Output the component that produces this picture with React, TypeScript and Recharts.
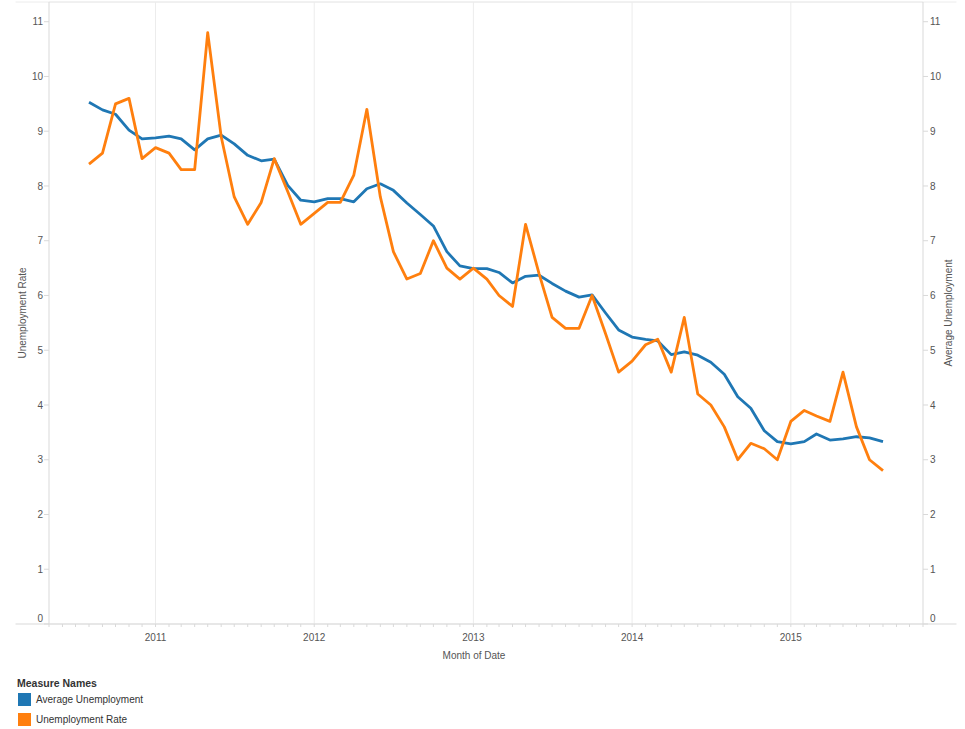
import React from 'react';
import { LineChart, Line, XAxis, YAxis, CartesianGrid, ReferenceLine, Label } from 'recharts';

const months = [
  '2010-08', '2010-09', '2010-10', '2010-11', '2010-12',
  '2011-01', '2011-02', '2011-03', '2011-04', '2011-05', '2011-06', '2011-07', '2011-08', '2011-09', '2011-10', '2011-11', '2011-12',
  '2012-01', '2012-02', '2012-03', '2012-04', '2012-05', '2012-06', '2012-07', '2012-08', '2012-09', '2012-10', '2012-11', '2012-12',
  '2013-01', '2013-02', '2013-03', '2013-04', '2013-05', '2013-06', '2013-07', '2013-08', '2013-09', '2013-10', '2013-11', '2013-12',
  '2014-01', '2014-02', '2014-03', '2014-04', '2014-05', '2014-06', '2014-07', '2014-08', '2014-09', '2014-10', '2014-11', '2014-12',
  '2015-01', '2015-02', '2015-03', '2015-04', '2015-05', '2015-06', '2015-07', '2015-08',
];

const averageUnemployment = [
  9.53, 9.39, 9.31, 9.02, 8.86,
  8.88, 8.91, 8.86, 8.66, 8.86, 8.93, 8.77, 8.56, 8.46, 8.49, 8.01, 7.74,
  7.71, 7.77, 7.77, 7.71, 7.95, 8.04, 7.92, 7.69, 7.48, 7.27, 6.8, 6.54,
  6.49, 6.49, 6.42, 6.23, 6.35, 6.37, 6.22, 6.08, 5.97, 6.01, 5.68, 5.37,
  5.24, 5.2, 5.17, 4.92, 4.97, 4.91, 4.78, 4.56, 4.15, 3.94, 3.53, 3.33,
  3.29, 3.33, 3.47, 3.36, 3.38, 3.42, 3.4, 3.33,
];

const unemploymentRate = [
  8.4, 8.6, 9.5, 9.6, 8.5,
  8.7, 8.6, 8.3, 8.3, 10.8, 8.9, 7.8, 7.3, 7.7, 8.5, 7.9, 7.3,
  7.5, 7.7, 7.7, 8.2, 9.4, 7.8, 6.8, 6.3, 6.4, 7.0, 6.5, 6.3,
  6.5, 6.3, 6.0, 5.8, 7.3, 6.4, 5.6, 5.4, 5.4, 6.0, 5.3, 4.6,
  4.8, 5.1, 5.2, 4.6, 5.6, 4.2, 4.0, 3.6, 3.0, 3.3, 3.2, 3.0,
  3.7, 3.9, 3.8, 3.7, 4.6, 3.6, 3.0, 2.8,
];

const yearLabels = ['2011', '2012', '2013', '2014', '2015'];
const yTicks = [0, 1, 2, 3, 4, 5, 6, 7, 8, 9, 10, 11];

const toTs = (m: string) => {
  const [y, mo] = m.split('-').map(Number);
  return Date.UTC(y, mo - 1, 1);
};

const data = months.map((m, i) => ({
  t: toTs(m),
  avg: averageUnemployment[i],
  rate: unemploymentRate[i],
}));

const X_MIN = Date.UTC(2010, 4, 1);
const X_MAX = Date.UTC(2015, 10, 1);
const Y_MAX = 11.36;
const EXT_L = Date.UTC(2010, 1, 13);
const EXT_R = Date.UTC(2016, 0, 17);

const monthTicks: number[] = [];
for (let i = 0; ; i++) {
  const ts = Date.UTC(2010, 4 + i, 1);
  if (ts > X_MAX) break;
  monthTicks.push(ts);
}
const yearTs = yearLabels.map((y) => Date.UTC(Number(y), 0, 1));

const FONT = '"Liberation Sans", Arial, Helvetica, sans-serif';
const BLUE = '#1f77b4';
const ORANGE = '#ff7f0e';
const GRID = '#ececec';
const AXIS = '#d9d9d9';

const YTick = (props: any) => {
  const { x, y, payload, textAnchor } = props;
  const dy = payload.value === 0 ? -6 : 0;
  return (
    <text x={x} y={y + dy} dy="0.355em" textAnchor={textAnchor} fontSize={10} fill="#555" fontFamily={FONT}>
      {payload.value}
    </text>
  );
};

const xFormat = (v: number) => {
  const d = new Date(v);
  return d.getUTCMonth() === 0 ? String(d.getUTCFullYear()) : '';
};

export default function App() {
  return (
    <div style={{ position: 'absolute', left: 0, top: 0, width: 965, height: 729, overflow: 'hidden', background: '#fff', fontFamily: FONT }}>
      <LineChart width={965} height={729} data={data} margin={{ top: 2, right: 5, bottom: 65, left: 5 }}>
        <CartesianGrid vertical={false} stroke={GRID} strokeWidth={1} />
        {yearTs.map((ts) => (
          <ReferenceLine key={ts} x={ts} yAxisId="left" stroke={GRID} strokeWidth={1} />
        ))}
        <ReferenceLine
          yAxisId="left"
          segment={[{ x: EXT_L, y: 0 }, { x: EXT_R, y: 0 }]}
          ifOverflow="visible"
          stroke={AXIS}
          strokeWidth={1}
        />
        <ReferenceLine
          yAxisId="left"
          segment={[{ x: EXT_L, y: Y_MAX }, { x: EXT_R, y: Y_MAX }]}
          ifOverflow="visible"
          stroke={GRID}
          strokeWidth={1}
        />
        <XAxis
          dataKey="t"
          type="number"
          scale="linear"
          domain={[X_MIN, X_MAX]}
          ticks={monthTicks}
          interval={0}
          tickFormatter={xFormat}
          tickSize={3}
          tickMargin={7}
          tickLine={{ stroke: AXIS }}
          axisLine={false}
          height={40}
          tick={{ fontSize: 10, fill: '#555', fontFamily: FONT }}
        >
          <Label value="Month of Date" position="center" dx={-12} dy={11} style={{ fontSize: 10, fill: '#555', fontFamily: FONT }} />
        </XAxis>
        <YAxis
          yAxisId="left"
          domain={[0, Y_MAX]}
          ticks={yTicks}
          interval={0}
          width={44}
          tickSize={5}
          tickMargin={1}
          tickLine={{ stroke: AXIS }}
          axisLine={{ stroke: AXIS }}
          tick={<YTick />}
        >
          <Label value="Unemployment Rate" angle={-90} position="center" dx={-5} style={{ fontSize: 10, fill: '#555', fontFamily: FONT, textAnchor: 'middle' }} />
        </YAxis>
        <YAxis
          yAxisId="right"
          orientation="right"
          domain={[0, Y_MAX]}
          ticks={yTicks}
          interval={0}
          width={37}
          tickSize={5}
          tickMargin={2}
          tickLine={{ stroke: AXIS }}
          axisLine={{ stroke: AXIS }}
          tick={<YTick />}
        >
          <Label value="Average Unemployment" angle={-90} position="center" dx={6.5} style={{ fontSize: 10, fill: '#555', fontFamily: FONT, textAnchor: 'middle' }} />
        </YAxis>
        <Line yAxisId="right" type="linear" dataKey="avg" name="Average Unemployment" stroke={BLUE} strokeWidth={2.8} dot={false} isAnimationActive={false} strokeLinejoin="round" />
        <Line yAxisId="left" type="linear" dataKey="rate" name="Unemployment Rate" stroke={ORANGE} strokeWidth={2.8} dot={false} isAnimationActive={false} strokeLinejoin="round" />
      </LineChart>
      <div style={{ position: 'absolute', left: 17, top: 677, fontSize: 10.5, fontWeight: 'bold', color: '#333' }}>Measure Names</div>
      {[
        { name: 'Average Unemployment', color: BLUE, top: 693 },
        { name: 'Unemployment Rate', color: ORANGE, top: 713 },
      ].map((item) => (
        <div key={item.name} style={{ position: 'absolute', left: 18, top: item.top, height: 13, display: 'flex', alignItems: 'center' }}>
          <div style={{ width: 13, height: 13, background: item.color }} />
          <span style={{ marginLeft: 5, fontSize: 10, color: '#333' }}>{item.name}</span>
        </div>
      ))}
    </div>
  );
}
